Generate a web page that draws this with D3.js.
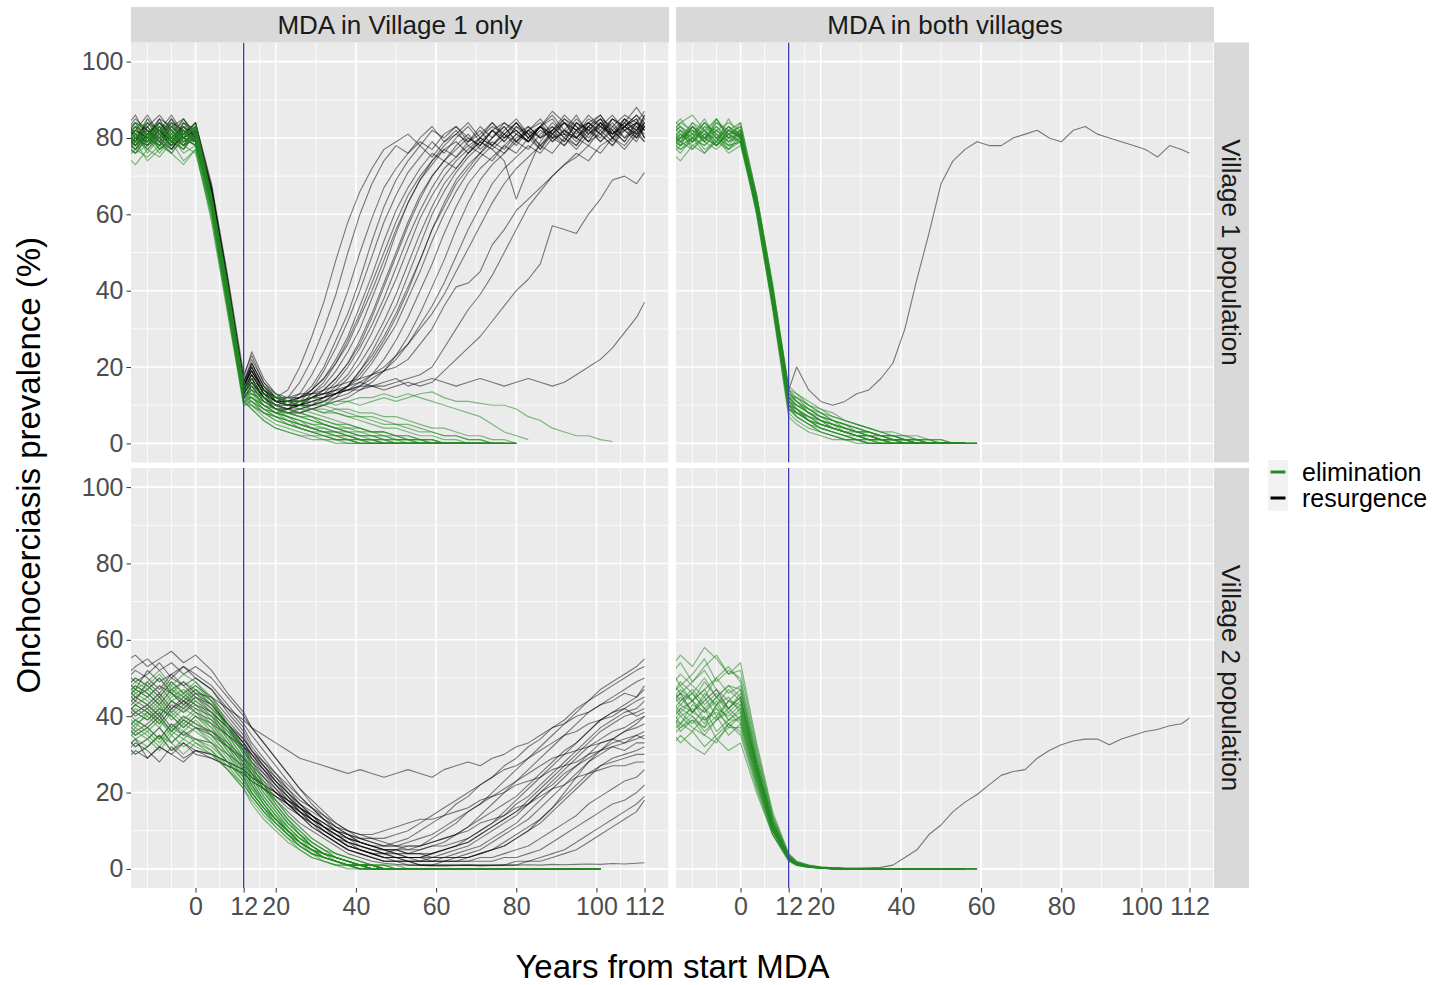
<!DOCTYPE html>
<html><head><meta charset="utf-8">
<script src="https://cdn.jsdelivr.net/npm/d3@7"></script>
<style>body{margin:0;background:#fff}svg{display:block}text{font-family:"Liberation Sans",Arial,Helvetica,sans-serif}</style>
</head><body><svg id="c" width="1448" height="985"></svg>
<script>
// ---------- data ----------
const years = [-18,-15,-12,-9,-6,-3,0,4,8,12,14,17,20,23,26,29,32,35,38,41,44,47,50,53,56,59,62,65,68,71,74,77,80,83,86,89,92,95,98,101,104,107,110,112];
const xTicks = [0,12,20,40,60,80,100,112];
const xMinor = [-12,-6,6,16,30,50,70,90,106,118];
const yTicks = [0,20,40,60,80,100];
const yMinor = [10,30,50,70,90];
const colLabels = ["MDA in Village 1 only","MDA in both villages"];
const rowLabels = ["Village 1 population","Village 2 population"];
const outcomes = ["elimination","resurgence"];
const mdaEndYear = 12;

// MDA in Village 1 only, Village 1 population
const v1only_pop1_resurgence = [
[81,78,83,79,84,80,82,64,40,15,19,13,12,14,20,28,37,48,58,66,72,77,79,81,78,82,80,83,79,81,84,80,82,79,83,85,81,80,84,82,79,83,85,82],
[78,82,80,85,79,83,81,65,41,14,21,15,11,12,16,22,30,39,50,60,68,74,78,76,80,83,79,81,84,80,78,82,85,81,83,80,78,82,84,86,81,83,80,84],
[80,84,79,82,86,81,79,63,39,13,17,12,10,11,13,18,24,31,40,50,59,67,72,76,79,77,81,83,80,78,82,84,81,79,83,86,82,80,78,82,85,83,81,86],
[76,80,78,83,77,82,80,66,42,16,22,16,12,10,12,15,20,27,34,43,53,62,69,74,78,75,79,82,78,80,84,81,79,83,80,82,86,83,79,81,84,80,82,85],
[83,79,85,81,78,84,82,64,38,12,15,11,9,9,11,14,19,25,32,40,49,58,65,71,75,79,76,80,83,79,82,80,84,81,78,82,85,83,80,84,82,79,83,81],
[79,77,81,84,80,78,83,67,43,17,24,17,13,12,12,14,17,22,28,36,44,53,61,67,72,76,74,78,81,77,80,83,79,82,84,80,81,85,82,79,83,86,84,82],
[82,86,80,78,83,85,80,62,37,12,14,10,8,9,10,13,16,21,27,34,42,50,58,65,70,74,77,75,79,82,78,81,84,80,83,79,82,86,81,84,80,83,85,80],
[77,81,83,79,76,80,78,65,40,15,20,14,11,11,12,13,15,19,24,30,38,46,55,63,69,73,77,79,76,80,83,81,78,82,85,81,79,84,82,80,85,83,81,84],
[85,81,79,84,82,79,81,66,41,14,18,13,10,9,10,12,14,17,21,26,33,41,49,57,64,70,74,77,80,78,82,79,83,81,77,82,84,80,83,86,82,79,84,83],
[80,78,82,80,85,81,84,68,44,18,23,16,13,11,11,12,13,16,20,25,31,38,46,54,61,67,72,75,78,76,80,83,79,82,80,84,81,78,83,85,80,84,82,86],
[78,83,81,77,80,83,79,63,38,13,16,12,9,8,9,10,12,15,18,23,29,36,43,51,59,65,70,74,77,80,78,81,84,80,83,81,85,82,79,84,81,83,86,84],
[84,80,78,82,79,84,80,65,41,15,19,14,11,10,10,11,12,14,17,21,26,32,39,47,55,62,68,72,76,79,77,80,82,79,83,81,78,82,84,81,85,82,80,83],
[79,82,86,81,78,80,82,64,39,14,17,12,10,9,9,10,11,13,15,18,22,27,33,40,48,56,63,69,73,76,79,77,81,83,80,82,79,84,81,83,80,85,82,84],
[81,79,83,86,82,78,80,67,43,16,21,15,12,11,10,11,12,13,15,17,21,26,31,38,45,53,60,66,71,75,78,76,80,82,78,81,84,80,83,79,82,85,81,83],
[76,80,82,79,77,81,83,66,40,14,18,13,11,10,10,10,11,12,13,15,18,22,27,33,40,47,55,62,68,72,75,78,76,80,83,79,82,80,84,81,78,83,86,83],
[83,81,77,80,84,82,79,64,39,13,16,12,10,9,8,9,10,11,12,14,16,19,23,28,34,41,48,56,63,69,73,76,79,77,81,83,80,78,82,85,81,84,80,83],
[80,84,82,78,81,85,81,65,42,16,20,14,12,11,11,12,12,13,14,15,17,19,22,26,31,36,42,49,56,62,68,72,75,78,76,80,82,79,83,81,78,82,84,80],
[78,76,80,83,79,82,80,63,38,12,15,11,9,9,10,11,12,13,14,16,18,20,23,26,30,34,39,45,51,57,63,68,72,75,78,76,80,77,81,84,80,82,79,83],
[82,79,84,80,77,81,84,66,41,15,19,14,12,12,13,13,14,15,16,17,18,19,20,22,26,30,36,41,42,45,52,56,61,64,67,70,73,75,78,76,80,78,82,79],
[80,83,78,81,85,80,79,64,40,14,18,13,11,11,12,13,13,14,14,15,15,14,15,16,15,16,19,22,25,28,32,36,40,43,47,57,56,55,60,64,69,70,68,71],
[79,82,80,84,81,78,82,65,39,13,17,12,10,10,11,12,13,14,15,16,15,16,17,15,16,17,16,15,16,17,16,15,16,17,16,15,16,18,20,22,25,29,33,37],
[84,80,79,82,78,83,80,66,42,15,19,14,12,11,11,12,13,13,14,14,15,15,16,17,18,20,25,30,35,39,44,50,56,62,66,70,73,76,74,78,80,77,81,79],
[81,85,82,79,83,80,84,67,42,16,21,15,12,11,12,14,17,21,26,33,40,48,56,63,69,74,78,81,79,83,80,84,82,79,83,87,84,81,85,83,86,82,84,87],
[77,80,84,82,79,77,81,63,38,13,16,12,9,8,8,9,10,12,15,19,24,30,36,44,52,60,66,71,75,78,82,79,83,80,77,81,84,82,79,83,81,85,83,80],
[82,78,81,85,83,80,78,65,41,15,20,14,11,10,10,12,14,17,21,27,34,42,50,58,65,70,74,72,76,79,77,74,64,72,79,83,80,84,82,85,83,80,84,82],
[80,77,81,84,80,83,79,64,40,14,18,13,11,10,10,10,11,13,15,19,23,28,34,41,48,56,62,68,72,76,74,78,81,79,82,80,84,82,86,83,81,84,88,85]
];
const v1only_pop1_elimination = [
[78,81,76,80,83,79,80,62,37,11,9,6,4,3,2,1,1,0,0,0,0,0,0,0,0,0,0,0,0],
[75,79,74,77,80,76,78,60,35,10,10,8,6,5,4,3,2,1,1,0,0,0,0,0,0,0,0,0,0,0],
[80,83,81,78,82,84,81,64,39,13,13,11,9,7,6,5,4,3,2,1,1,0,0,0,0,0,0,0,0,0,0],
[82,78,80,84,79,81,83,65,41,15,15,12,10,9,8,7,5,4,3,2,2,1,1,0,0,0,0,0,0,0,0,0,0],
[77,80,83,79,76,80,78,61,36,12,11,8,7,5,4,3,3,2,1,1,0,0,0,0,0,0,0,0],
[79,76,78,82,80,77,81,63,38,12,14,12,11,10,9,8,7,6,5,4,3,3,2,1,1,0,0,0,0,0,0,0],
[83,80,85,81,79,82,80,64,40,14,12,9,7,6,5,4,3,2,2,1,1,0,0,0,0,0,0,0,0,0],
[76,73,77,75,79,74,77,59,35,11,12,10,9,8,8,7,6,5,5,4,3,3,2,2,1,1,0,0,0,0,0,0,0],
[80,82,79,83,81,78,80,63,38,13,13,12,12,11,11,12,11,10,11,10,11,12,11,12,13,13.5,12,11,11,10.5,10,10,9,7,6,4,3,2,2,1,0.5],
[81,77,80,78,82,80,83,64,40,15,15,13,12,12,11,11,10,11,11,12,12,13,12,13,12,11,10,9,8,7,5,3,2,1],
[78,80,82,77,79,83,79,62,38,12,13,11,10,10,9,9,8,9,8,7,7,6,5,5,4,3,2,2,1,1,0,0,0],
[84,81,78,80,83,81,82,65,42,16,14,10,8,6,4,3,2,1,1,0,0,0,0,0,0,0,0,0],
[79,83,80,76,80,82,78,61,37,11,11,9,8,7,6,5,5,4,3,3,2,2,1,1,0,0,0,0,0,0,0],
[76,79,81,80,77,79,81,63,39,13,12,10,8,7,6,4,3,3,2,1,1,0,0,0,0,0,0,0,0],
[82,84,80,83,79,81,80,64,40,14,16,14,12,11,10,9,8,8,7,6,5,4,4,3,2,2,1,1,0,0,0,0,0],
[80,77,79,81,84,79,82,63,38,12,10,7,5,4,3,2,2,1,1,0,0,0,0,0,0,0,0],
[74,77,75,78,76,73,77,58,34,10,11,9,8,8,7,6,5,4,4,3,3,2,2,1,1,1,0,0,0,0,0,0],
[81,79,82,78,80,85,81,64,40,15,14,12,10,8,7,6,5,4,3,2,2,1,1,1,0,0,0,0,0,0],
[83,80,77,81,79,80,84,65,41,15,17,15,13,11,10,9,9,8,7,7,6,5,5,4,3,3,2,2,1,1,0,0,0],
[77,81,79,82,84,80,79,62,37,12,12,9,7,6,5,4,3,2,2,1,1,1,0,0,0,0,0,0,0,0,0],
[80,84,83,79,81,78,80,63,39,13,11,8,6,5,4,3,2,2,1,1,0,0,0,0,0,0,0,0,0],
[79,76,80,84,82,79,81,64,40,14,15,13,12,11,11,10,10,9,9,8,8,7,7,6,5,4,4,3,2,2,1,1,0],
[82,79,81,77,80,83,79,61,36,11,10,8,7,6,5,4,4,3,3,2,2,2,1,1,1,0,0,0,0,0,0,0],
[78,82,84,81,78,82,80,64,41,15,13,10,8,7,5,4,3,3,2,2,1,1,0,0,0,0,0,0,0,0,0,0,0],
[80,78,81,83,80,77,83,62,38,12,12,10,9,8,7,7,6,5,4,4,3,3,2,2,1,1,0,0,0,0,0,0],
[76,80,78,80,82,78,76,60,36,11,9,6,4,3,2,2,1,1,0,0,0,0,0,0,0,0,0,0,0,0]
];

// MDA in both villages, Village 1 population
const both_pop1_resurgence = [
[81,79,83,80,78,82,80,64,40,14,20,14,11,10,11,13,14,17,21,30,43,55,68,74,77,79,78,78,80,81,82,80,79,82,83,81,80,79,78,77,75,78,77,76]
];
const both_pop1_elimination = [
[80,83,79,82,78,81,83,63,39,11,8,6,4,3,2,1,1,0,0,0,0,0,0,0,0],
[78,80,84,80,83,79,80,62,37,9,7,5,3,2,1,1,0,0,0,0,0,0,0,0,0],
[82,79,81,85,80,82,84,65,41,14,12,9,7,5,4,3,2,2,1,1,0,0,0,0,0],
[76,79,77,80,82,78,79,61,36,8,6,4,3,2,1,1,0,0,0,0,0,0,0,0,0,0],
[81,84,86,82,79,83,81,64,40,12,10,8,6,5,4,3,2,1,1,1,0,0,0,0,0],
[79,76,80,78,81,77,80,62,38,10,8,6,5,4,3,2,2,1,1,0,0,0,0,0,0,0],
[83,80,82,79,84,81,82,64,39,13,11,8,6,4,3,2,1,1,0,0,0,0,0,0,0],
[77,81,79,83,80,76,78,61,36,9,8,7,6,5,4,3,3,2,2,1,1,0,0,0,0],
[80,78,83,81,85,80,82,63,40,12,9,6,4,3,2,1,0,0,0,0,0,0,0,0,0],
[84,82,79,81,78,82,80,64,39,11,10,8,7,6,5,4,3,2,2,1,1,1,0,0,0,0],
[75,78,80,76,79,77,81,60,35,7,5,3,2,1,1,0,0,0,0,0,0,0,0,0,0],
[82,85,81,84,80,83,80,65,41,15,13,10,8,6,5,4,3,2,2,1,1,0,0,0,0],
[79,81,78,80,83,80,79,62,37,10,9,7,5,4,3,2,2,1,1,0,0,0,0,0,0],
[81,78,83,79,82,84,82,63,40,12,11,9,8,7,6,5,4,3,2,2,1,1,0,0,0,0],
[78,82,80,84,81,78,79,62,38,10,7,5,3,2,1,1,0,0,0,0,0,0,0,0,0],
[80,77,79,82,78,81,83,64,39,12,12,10,8,6,5,3,3,2,1,1,0,0,0,0,0],
[86,83,81,80,84,82,81,65,42,14,11,8,6,5,3,2,2,1,1,0,0,0,0,0,0],
[77,74,78,76,80,77,79,60,36,9,8,6,5,4,3,3,2,1,1,1,0,0,0,0,0],
[80,83,80,78,82,79,81,63,38,11,9,7,5,4,3,2,1,1,0,0,0,0,0,0,0,0],
[83,79,84,82,79,85,80,64,40,13,12,10,9,7,6,5,4,3,2,2,1,1,1,0,0],
[79,82,77,81,80,78,82,62,37,10,9,7,6,4,3,2,2,1,1,0,0,0,0,0,0],
[81,80,83,79,85,81,79,63,39,12,10,8,6,5,4,3,2,2,1,1,0,0,0,0,0,0],
[76,80,82,79,77,80,81,61,37,9,7,5,4,3,2,1,1,0,0,0,0,0,0,0,0],
[84,81,79,83,82,80,84,65,41,14,13,11,9,8,6,5,4,3,3,2,2,1,1,0,0],
[78,80,81,77,79,83,80,62,38,11,9,6,4,3,2,2,1,1,0,0,0,0,0,0,0],
[82,78,80,84,81,79,82,63,39,12,10,9,7,6,5,4,3,2,1,1,1,0,0,0,0,0],
[80,84,82,80,78,81,79,62,38,10,8,6,5,4,3,2,1,1,0,0,0,0,0,0,0],
[79,77,80,82,85,80,81,64,40,13,11,9,7,6,4,3,3,2,2,1,1,0,0,0,0]
];

// MDA in Village 1 only, Village 2 population
const v1only_pop2_resurgence = [
[50,53,55,52,54,51,53,50,45,40,37,33,29,25,21,17,14,11,9,7,6,6,7,8,10,12,14,17,19,22,24,27,29,32,34,37,39,42,44,47,49,51,53,55],
[44,47,45,48,46,43,46,45,42,39,37,35,33,31,29,28,27,26,25,26,25,24,25,26,25,24,26,27,28,27,29,30,32,33,35,37,38,40,41,43,44,46,45,48],
[47,44,49,46,50,48,45,43,38,33,30,26,22,18,15,12,10,8,6,5,4,4,5,5,6,8,10,12,15,17,20,23,26,29,32,35,38,41,44,46,48,50,52,53],
[38,41,39,42,40,37,40,38,35,32,30,27,24,21,18,16,13,11,9,7,6,5,4,4,5,6,7,9,11,14,17,20,23,26,29,32,35,38,41,43,45,47,49,50],
[52,49,51,54,50,53,51,48,43,38,35,31,27,23,19,16,13,10,8,6,5,4,3,3,3,4,5,6,8,10,12,15,18,21,24,27,30,33,36,39,41,43,45,47],
[42,45,43,40,44,42,45,42,38,34,31,28,25,22,19,16,14,12,10,9,8,7,6,6,6,7,8,9,11,13,15,17,19,22,25,28,31,33,36,39,41,42,44,45],
[33,30,32,35,31,33,30,29,27,25,23,21,19,17,15,13,11,10,9,8,7,6,6,5,5,6,6,7,8,10,12,14,17,19,22,25,28,31,34,37,39,41,42,44],
[48,45,47,50,46,44,47,44,39,34,31,27,23,20,17,14,11,9,7,5,4,3,3,3,3,4,5,6,7,9,11,13,15,18,21,24,27,30,33,36,38,40,41,42],
[40,43,41,38,42,44,41,39,35,31,28,25,22,19,16,14,12,10,9,8,8,8,9,10,12,14,16,18,20,22,24,26,27,29,31,33,35,36,38,39,40,42,40,41],
[36,39,37,34,38,35,37,35,32,29,27,24,21,18,15,13,11,9,7,6,5,4,4,3,3,3,4,5,6,8,10,12,14,17,20,23,26,29,32,34,36,37,39,40],
[45,48,46,43,47,49,46,43,38,33,29,25,21,17,14,11,9,7,5,4,3,2,2,2,2,3,3,4,5,6,8,10,12,15,18,21,24,27,30,33,34,36,37,38],
[31,34,29,32,30,33,31,30,28,26,24,22,20,18,16,14,12,10,8,7,6,5,5,4,4,4,5,6,7,9,11,13,15,17,20,22,25,27,29,31,33,34,35,36],
[50,47,52,49,51,48,50,47,41,36,32,28,24,20,16,13,10,8,6,5,4,3,3,2,2,2,3,3,4,5,7,9,11,13,16,19,22,25,28,30,32,33,34,35],
[43,40,42,45,41,44,42,40,36,32,29,26,23,20,17,15,13,11,10,9,9,10,11,12,13,13,14,15,16,18,19,20,22,23,24,26,27,28,30,31,32,31,33,33],
[38,35,37,40,36,39,37,36,33,29,26,23,20,17,14,12,10,8,6,5,4,3,3,2,2,2,2,3,3,4,5,6,8,10,12,15,18,21,24,27,29,30,31,32],
[47,50,48,45,49,46,48,45,40,35,31,27,23,19,15,12,9,7,5,4,3,2,2,2,1,1,2,2,3,4,5,7,9,11,13,16,19,22,25,27,28,29,30,30],
[35,32,34,37,33,36,34,33,30,27,25,22,19,16,14,12,10,8,7,6,5,5,5,6,6,7,8,9,10,12,13,14,16,17,19,21,22,24,25,26,27,27,28,28],
[41,44,42,39,43,41,44,41,37,33,30,26,22,19,16,13,11,9,7,6,5,4,3,3,2,2,2,2,2,3,3,4,5,6,8,10,12,14,17,19,21,23,24,26],
[30,33,31,28,32,29,31,30,28,26,24,22,20,18,16,14,12,10,8,7,6,5,4,3,3,2,2,2,2,2,2,3,3,4,5,7,9,11,13,15,17,18,20,22],
[44,41,43,46,42,45,43,41,37,32,28,24,20,17,14,11,9,7,5,4,3,2,2,1,1,1,1,1,1,1,1,1,2,2,3,4,5,7,9,11,13,15,17,19],
[49,52,50,47,51,53,50,47,42,37,33,29,25,21,17,14,11,8,6,5,4,3,2,2,1,1,1,1,1,1,1,1,1,2,2,3,4,5,7,9,11,13,15,18],
[39,36,38,41,37,40,38,36,32,28,25,21,18,15,12,10,8,6,4,3,2,1.5,1.2,1,1,0.8,0.8,0.9,1,0.8,0.9,1,1,1.1,1,1.2,1.1,1.2,1.3,1.2,1.4,1.3,1.5,1.6],
[54,56,53,55,57,54,56,52,46,41,37,33,29,25,21,18,15,12,10,8,7,6,6,7,8,9,11,13,15,17,19,21,23,25,27,29,30,31,32,33,34,33,35,34],
[28,31,29,32,30,28,31,29,27,25,23,21,19,17,15,13,11,9,8,7,6,5,5,4,4,3,3,3,3,4,5,6,8,10,13,16,20,24,28,31,34,36,38,40]
];
const v1only_pop2_elimination = [
[42,45,43,40,44,41,43,39,33,27,23,18,14,10,7,5,3,2,1,1,0,0,0,0,0,0,0,0,0,0,0,0,0,0,0,0,0,0,0,0],
[36,39,37,34,38,36,39,35,30,25,21,17,13,10,7,5,4,3,2,1,1,0,0,0,0,0,0,0,0,0,0,0,0,0,0,0,0,0,0],
[48,45,47,50,46,49,47,43,37,31,27,22,17,13,10,7,5,3,2,1,1,0,0,0,0,0,0,0,0,0,0,0,0,0,0,0,0,0,0,0],
[33,36,34,31,35,32,34,31,27,22,19,15,12,9,6,4,3,2,1,0,0,0,0,0,0,0,0,0,0,0,0,0,0,0,0,0,0,0],
[40,37,41,39,36,40,38,35,30,24,20,16,12,9,6,4,3,2,1,1,0,0,0,0,0,0,0,0,0,0,0,0,0,0,0,0,0,0,0,0],
[45,48,46,43,47,44,46,42,36,30,26,21,17,13,10,7,5,4,3,2,1,1,0,0,0,0,0,0,0,0,0,0,0,0,0,0,0,0,0,0],
[38,41,39,42,40,37,40,36,31,25,21,17,13,10,7,5,3,2,1,1,0,0,0,0,0,0,0,0,0,0,0,0,0,0,0,0,0],
[50,47,49,52,48,51,49,45,38,32,28,23,18,14,11,8,6,4,3,2,1,1,0,0,0,0,0,0,0,0,0,0,0,0,0,0,0,0,0,0],
[35,32,34,37,33,36,33,31,26,21,17,13,10,7,5,3,2,1,1,0,0,0,0,0,0,0,0,0,0,0,0,0,0,0,0,0,0,0,0],
[43,46,44,41,45,47,44,40,34,28,24,19,15,11,8,6,4,3,2,1,1,0,0,0,0,0,0,0,0,0,0,0,0,0,0,0,0,0,0,0],
[39,42,40,37,41,38,41,37,31,26,22,18,14,11,8,6,4,3,2,1,1,0,0,0,0,0,0,0,0,0,0,0,0,0,0,0,0,0,0,0],
[46,43,45,48,44,42,45,41,35,29,25,20,16,12,9,6,4,3,2,1,0,0,0,0,0,0,0,0,0,0,0,0,0,0,0,0,0,0,0],
[31,34,32,35,33,30,33,30,26,22,19,15,12,9,7,5,3,2,1,1,0,0,0,0,0,0,0,0,0,0,0,0,0,0,0,0,0,0,0,0],
[41,38,40,43,39,42,40,37,32,26,22,17,13,9,6,4,2,1,1,0,0,0,0,0,0,0,0,0,0,0,0,0,0,0,0,0,0,0],
[47,50,48,45,49,46,49,44,37,31,27,22,18,14,11,8,6,4,3,2,1,1,1,0,0,0,0,0,0,0,0,0,0,0,0,0,0,0,0,0],
[37,34,36,39,35,38,36,33,28,23,19,15,11,8,5,3,2,1,0,0,0,0,0,0,0,0,0,0,0,0,0,0,0,0,0,0],
[44,41,43,40,44,46,43,40,34,28,24,19,15,11,8,5,4,2,1,1,0,0,0,0,0,0,0,0,0,0,0,0,0,0,0,0,0,0,0,0],
[34,37,35,32,36,34,37,33,28,24,20,16,13,10,8,6,4,3,2,1,1,0,0,0,0,0,0,0,0,0,0,0,0,0,0,0,0,0,0,0],
[49,46,48,51,47,45,48,44,38,31,27,22,17,13,9,6,4,3,2,1,1,0,0,0,0,0,0,0,0,0,0,0,0,0,0,0,0,0,0],
[40,43,41,38,42,39,42,38,33,27,23,18,14,10,7,5,3,2,1,1,0,0,0,0,0,0,0,0,0,0,0,0,0,0,0,0,0,0,0,0],
[35,38,36,33,37,35,34,32,28,23,20,16,13,10,7,5,4,3,2,1,1,0,0,0,0,0,0,0,0,0,0,0,0,0,0,0,0,0,0,0],
[42,39,41,44,40,43,41,38,32,26,22,17,13,10,7,4,3,2,1,0,0,0,0,0,0,0,0,0,0,0,0,0,0,0,0,0,0,0],
[46,49,47,44,48,45,47,43,37,30,26,21,16,12,9,6,4,3,2,1,1,0,0,0,0,0,0,0,0,0,0,0,0,0,0,0,0,0,0,0],
[38,35,37,40,36,39,37,34,29,24,20,16,12,9,7,5,3,2,1,1,0,0,0,0,0,0,0,0,0,0,0,0,0,0,0,0,0,0,0,0],
[33,30,32,35,31,34,32,30,26,21,18,14,11,8,6,4,3,2,1,0,0,0,0,0,0,0,0,0,0,0,0,0,0,0,0,0,0,0,0],
[44,47,45,42,46,43,45,41,35,29,25,20,16,12,9,7,5,3,2,1,1,0,0,0,0,0,0,0,0,0,0,0,0,0,0,0,0,0,0,0]
];

// MDA in both villages, Village 2 population
const both_pop2_resurgence = [
[43,46,41,44,47,42,45,27,11,3,1.5,0.8,0.5,0.3,0.2,0.2,0.3,0.4,1,3,5,9,11.5,15,17.5,19.5,22,24.5,25.5,26,29,31,32.5,33.5,34,34,32.5,34,35,36,36.5,37.5,38,39.5]
];
const both_pop2_elimination = [
[45,48,44,47,50,46,48,29,13,3.5,1.6,0.8,0.4,0.2,0.1,0,0,0,0,0,0,0,0,0,0],
[50,54,49,53,56,51,52,32,14,4,1.9,1,0.5,0.3,0.1,0.1,0,0,0,0,0,0,0,0,0],
[42,46,44,41,45,48,45,27,12,3,1.4,0.7,0.3,0.2,0.1,0,0,0,0,0,0,0,0,0,0,0],
[45,41,44,47,42,40,43,26,11,3,1.3,0.6,0.3,0.1,0,0,0,0,0,0,0,0,0,0,0],
[38,42,40,37,43,39,41,25,11,2.8,1.2,0.6,0.3,0.1,0,0,0,0,0,0,0,0,0,0,0],
[41,37,40,36,39,42,39,24,10,2.5,1.1,0.5,0.2,0.1,0,0,0,0,0,0,0,0,0,0,0],
[35,38,36,40,34,37,37,22,10,2.4,1,0.5,0.2,0,0,0,0,0,0,0,0,0,0,0,0],
[37,33,36,32,35,38,35,21,9,2.2,1,0.4,0.2,0,0,0,0,0,0,0,0,0,0,0,0,0],
[44,49,46,50,45,48,47,28,12,3.2,1.5,0.7,0.3,0.2,0.1,0,0,0,0,0,0,0,0,0,0],
[47,43,46,42,45,41,44,27,12,3,1.4,0.7,0.3,0.1,0,0,0,0,0,0,0,0,0,0,0],
[39,43,41,45,40,44,42,26,11,2.9,1.3,0.6,0.3,0.1,0,0,0,0,0,0,0,0,0,0,0],
[43,38,41,39,42,37,40,24,10,2.7,1.2,0.6,0.3,0.1,0,0,0,0,0,0,0,0,0,0,0,0],
[36,40,37,35,39,41,38,23,10,2.5,1.1,0.5,0.2,0.1,0,0,0,0,0,0,0,0,0,0,0],
[53,48,51,55,49,52,50,31,14,3.6,1.7,0.8,0.4,0.2,0.1,0,0,0,0,0,0,0,0,0,0],
[43,47,44,49,45,42,46,28,12,3.3,1.5,0.7,0.3,0.2,0.1,0,0,0,0,0,0,0,0,0,0],
[34,37,39,35,33,38,36,22,9,2.3,1,0.5,0.2,0.1,0,0,0,0,0,0,0,0,0,0,0],
[52,56,53,58,55,51,54,33,15,4,2,1,0.5,0.3,0.1,0.1,0,0,0,0,0,0,0,0,0,0],
[40,44,46,42,39,44,43,26,11,2.9,1.3,0.6,0.3,0.1,0,0,0,0,0,0,0,0,0,0,0],
[44,40,42,38,43,45,41,25,11,2.8,1.2,0.6,0.3,0.1,0,0,0,0,0,0,0,0,0,0,0],
[37,41,38,42,36,39,39,24,10,2.6,1.1,0.5,0.2,0.1,0,0,0,0,0,0,0,0,0,0,0],
[47,51,48,45,50,53,49,30,13,3.4,1.6,0.8,0.4,0.2,0.1,0,0,0,0,0,0,0,0,0,0,0],
[48,44,47,43,46,42,45,27,12,3,1.4,0.7,0.3,0.2,0,0,0,0,0,0,0,0,0,0,0],
[31,35,32,30,34,31,33,20,9,2,0.9,0.4,0.2,0,0,0,0,0,0,0,0,0,0,0,0],
[50,46,49,52,47,44,47,29,13,3.2,1.5,0.7,0.3,0.2,0.1,0,0,0,0,0,0,0,0,0,0],
[40,38,43,41,44,39,42,26,11,2.9,1.3,0.6,0.3,0.1,0,0,0,0,0,0,0,0,0,0,0],
[41,36,39,37,40,35,38,23,10,2.6,1.1,0.5,0.2,0.1,0,0,0,0,0,0,0,0,0,0,0],
[42,45,41,46,43,47,44,27,12,3,1.4,0.7,0.3,0.1,0,0,0,0,0,0,0,0,0,0,0,0],
[38,42,44,39,41,38,40,25,11,2.7,1.2,0.6,0.3,0.1,0,0,0,0,0,0,0,0,0,0,0]
];

// ---------- layout ----------
const svg = d3.select("#c");
const L = {x0:[131,676], y0:[42.5,468], w:538, h:420, stripTop:7, stripW:35};
const x = d3.scaleLinear().domain([-16.1,118.1]).range([0,L.w]);
const y = d3.scaleLinear().domain([-5,105]).range([L.h,0]);
const colours = {elimination:"rgba(34,139,34,0.55)", resurgence:"rgba(0,0,0,0.5)"};
const line = d3.line().defined(d=>d!=null).x((d,i)=>x(years[i])).y(d=>y(d));

const panels = [
  {c:0,r:0,res:v1only_pop1_resurgence,eli:v1only_pop1_elimination},
  {c:1,r:0,res:both_pop1_resurgence,eli:both_pop1_elimination},
  {c:0,r:1,res:v1only_pop2_resurgence,eli:v1only_pop2_elimination},
  {c:1,r:1,res:both_pop2_resurgence,eli:both_pop2_elimination}
];

const defs = svg.append("defs");
defs.append("clipPath").attr("id","pclip").append("rect").attr("width",L.w).attr("height",L.h);

panels.forEach(p=>{
  const g = svg.append("g").attr("transform",`translate(${L.x0[p.c]},${L.y0[p.r]})`);
  g.append("rect").attr("width",L.w).attr("height",L.h).attr("fill","#ebebeb");
  g.selectAll(".xmin").data(xMinor).join("line").attr("x1",d=>x(d)).attr("x2",d=>x(d)).attr("y1",0).attr("y2",L.h).attr("stroke","#fff").attr("stroke-width",0.8);
  g.selectAll(".ymin").data(yMinor).join("line").attr("y1",d=>y(d)).attr("y2",d=>y(d)).attr("x1",0).attr("x2",L.w).attr("stroke","#fff").attr("stroke-width",0.8);
  g.selectAll(".xmaj").data(xTicks).join("line").attr("x1",d=>x(d)).attr("x2",d=>x(d)).attr("y1",0).attr("y2",L.h).attr("stroke","#fff").attr("stroke-width",1.6);
  g.selectAll(".ymaj").data(yTicks).join("line").attr("y1",d=>y(d)).attr("y2",d=>y(d)).attr("x1",0).attr("x2",L.w).attr("stroke","#fff").attr("stroke-width",1.6);
  const lg = g.append("g").attr("clip-path","url(#pclip)");
  lg.selectAll(".res").data(p.res).join("path").attr("d",line).attr("fill","none")
    .attr("stroke",colours.resurgence).attr("stroke-width",1.1).attr("stroke-linejoin","round");
  lg.selectAll(".eli").data(p.eli).join("path").attr("d",line).attr("fill","none")
    .attr("stroke",colours.elimination).attr("stroke-width",1.2).attr("stroke-linejoin","round");
  lg.append("line").attr("x1",x(mdaEndYear)).attr("x2",x(mdaEndYear)).attr("y1",0).attr("y2",L.h)
    .attr("stroke","#3a3aa8").attr("stroke-width",1.3);
  if(p.c===0){
    const ax = g.append("g").call(d3.axisLeft(y).tickValues(yTicks).tickSize(4.5).tickPadding(3));
    ax.select(".domain").remove();
    ax.selectAll("line").attr("stroke","#333").attr("stroke-width",1);
    ax.selectAll("text").attr("font-size",25).attr("fill","#4d4d4d").attr("font-family",null);
  }
  if(p.r===1){
    const ax = g.append("g").attr("transform",`translate(0,${L.h})`).call(d3.axisBottom(x).tickValues(xTicks).tickSize(4.5).tickPadding(5));
    ax.select(".domain").remove();
    ax.selectAll("line").attr("stroke","#333").attr("stroke-width",1);
    ax.selectAll("text").attr("font-size",25).attr("fill","#4d4d4d").attr("font-family",null);
  }
});

// strips
colLabels.forEach((t,c)=>{
  svg.append("rect").attr("x",L.x0[c]).attr("y",L.stripTop).attr("width",L.w).attr("height",L.y0[0]-L.stripTop).attr("fill","#d9d9d9");
  svg.append("text").attr("x",L.x0[c]+L.w/2).attr("y",(L.stripTop+L.y0[0])/2).attr("dy","0.36em")
    .attr("text-anchor","middle").attr("font-size",26).attr("fill","#1a1a1a").text(t);
});
rowLabels.forEach((t,r)=>{
  const sx = L.x0[1]+L.w;
  svg.append("rect").attr("x",sx).attr("y",L.y0[r]).attr("width",L.stripW).attr("height",L.h).attr("fill","#d9d9d9");
  svg.append("text").attr("transform",`translate(${sx+L.stripW/2},${L.y0[r]+L.h/2}) rotate(90)`).attr("dy","0.36em")
    .attr("text-anchor","middle").attr("font-size",26).attr("fill","#1a1a1a").text(t);
});

// axis titles
svg.append("text").attr("transform",`translate(28,${(L.y0[0]+L.y0[1]+L.h)/2}) rotate(-90)`).attr("dy","0.36em")
  .attr("text-anchor","middle").attr("font-size",33).attr("fill","#000").text("Onchocerciasis prevalence (%)");
svg.append("text").attr("x",(L.x0[0]+L.x0[1]+L.w)/2).attr("y",978).attr("text-anchor","middle")
  .attr("font-size",33).attr("fill","#000").text("Years from start MDA");

// legend
const leg = svg.append("g").attr("transform","translate(1268,460)");
leg.append("rect").attr("width",20).attr("height",51).attr("fill","#f2f2f2");
const legCol = {elimination:"#228B22", resurgence:"#000"};
outcomes.forEach((o,i)=>{
  leg.append("line").attr("x1",2.5).attr("x2",17.5).attr("y1",12+i*26).attr("y2",12+i*26).attr("stroke",legCol[o]).attr("stroke-width",3);
  leg.append("text").attr("x",34).attr("y",12+i*26).attr("dy","0.36em").attr("font-size",25).attr("fill","#000").text(o);
});
</script></body></html>
